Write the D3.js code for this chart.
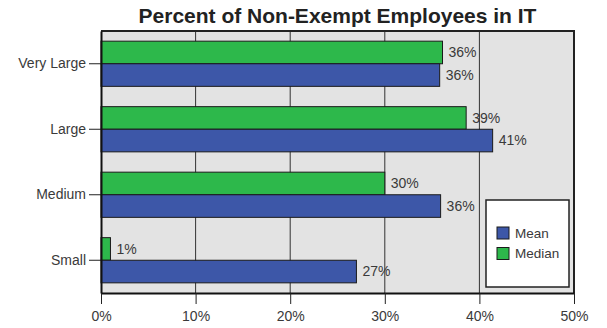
<!DOCTYPE html>
<html>
<head>
<meta charset="utf-8">
<script src="https://cdn.jsdelivr.net/npm/d3@7"></script>
<style>
  html, body { margin: 0; padding: 0; background: #fff; }
  svg { display: block; font-family: "Liberation Sans", Arial, sans-serif; }
</style>
</head>
<body>
<svg id="chart" width="607" height="328"></svg>
<script>
// Company-size categories, top to bottom
const categories = ["Very Large", "Large", "Medium", "Small"];
// Series names and values (percent)
const seriesNames = ["Median", "Mean"];
const medianValues = [36.1, 38.6, 30.0, 1.0];
const meanValues = [35.8, 41.4, 35.9, 27.0];
const xTicks = [0, 10, 20, 30, 40, 50];
const legendNames = ["Mean", "Median"];

const colors = { Mean: "#3d57a8", Median: "#2db84b" };

const svg = d3.select("#chart");
const margin = { left: 101, right: 33, top: 31, bottom: 35 };
const W = 607, H = 328;

const x = d3.scaleLinear().domain([0, 50]).range([margin.left, W - margin.right]);
const y = d3.scaleBand().domain(categories)
  .range([margin.top, H - margin.bottom])
  .paddingInner(0.31).paddingOuter(0.155);
const ySub = d3.scaleBand().domain(seriesNames).range([0, y.bandwidth()]);

const rows = categories.map((c, i) => ({
  cat: c,
  Median: medianValues[i],
  Mean: meanValues[i]
}));

// Title, centred over the plot area
svg.append("text")
  .attr("x", (x(0) + x(50)) / 2).attr("y", 23)
  .attr("text-anchor", "middle")
  .attr("font-size", 21).attr("font-weight", "bold")
  .attr("fill", "#222")
  .text("Percent of Non-Exempt Employees in IT");

// Plot background
svg.append("rect")
  .attr("x", x(0)).attr("y", margin.top)
  .attr("width", x(50) - x(0)).attr("height", H - margin.bottom - margin.top)
  .attr("fill", "#e3e3e3");

// Vertical gridlines
svg.append("g").selectAll("line")
  .data(xTicks.slice(1))
  .join("line")
  .attr("x1", d => x(d)).attr("x2", d => x(d))
  .attr("y1", margin.top).attr("y2", H - margin.bottom)
  .attr("stroke", "#333").attr("stroke-width", 1);

// Bars
const groups = svg.append("g").selectAll("g")
  .data(rows)
  .join("g")
  .attr("transform", d => `translate(0,${y(d.cat)})`);

groups.selectAll("rect")
  .data(d => seriesNames.map(s => ({ s, v: d[s] })))
  .join("rect")
  .attr("x", x(0))
  .attr("y", d => ySub(d.s))
  .attr("width", d => x(d.v) - x(0))
  .attr("height", ySub.bandwidth())
  .attr("fill", d => colors[d.s])
  .attr("stroke", "#1a1a1a").attr("stroke-width", 1);

groups.selectAll("text")
  .data(d => seriesNames.map(s => ({ s, v: d[s] })))
  .join("text")
  .attr("x", d => x(d.v) + 6)
  .attr("y", d => ySub(d.s) + ySub.bandwidth() / 2)
  .attr("dy", "0.35em")
  .attr("font-size", 14)
  .attr("fill", "#3a3a3a")
  .text(d => d3.format(".0f")(d.v) + "%");

// Plot frame (top and right)
svg.append("path")
  .attr("d", `M${x(0)},${margin.top}H${x(50)}V${H - margin.bottom}`)
  .attr("fill", "none").attr("stroke", "#222").attr("stroke-width", 2);

// Axes
const xAxis = d3.axisBottom(x).tickValues(xTicks)
  .tickFormat(d => d + "%").tickSize(11).tickSizeOuter(0).tickPadding(7);
const gx = svg.append("g")
  .attr("transform", `translate(0,${H - margin.bottom})`)
  .call(xAxis);
gx.select(".domain").attr("stroke", "#111").attr("stroke-width", 2);
gx.selectAll(".tick line").attr("stroke", "#222");
gx.selectAll(".tick text").attr("font-size", 14).attr("fill", "#3a3a3a")
  .attr("font-family", "Liberation Sans, Arial, sans-serif");

const yAxis = d3.axisLeft(y).tickSize(12).tickSizeOuter(0).tickPadding(3);
const gy = svg.append("g")
  .attr("transform", `translate(${x(0)},0)`)
  .call(yAxis);
gy.select(".domain").attr("stroke", "#111").attr("stroke-width", 2);
gy.selectAll(".tick line").attr("stroke", "#222");
gy.selectAll(".tick text").attr("font-size", 14).attr("fill", "#3a3a3a")
  .attr("font-family", "Liberation Sans, Arial, sans-serif");

// Legend
const lg = svg.append("g").attr("transform", "translate(486,200)");
lg.append("rect")
  .attr("width", 83).attr("height", 87)
  .attr("fill", "#fff").attr("stroke", "#222").attr("stroke-width", 1.5);
const items = lg.selectAll("g.item")
  .data(legendNames)
  .join("g")
  .attr("class", "item")
  .attr("transform", (d, i) => `translate(11,${27 + i * 20.5})`);
items.append("rect")
  .attr("width", 12).attr("height", 12)
  .attr("fill", d => colors[d])
  .attr("stroke", "#1a1a1a").attr("stroke-width", 1);
items.append("text")
  .attr("x", 18).attr("y", 6).attr("dy", "0.35em")
  .attr("font-size", 13.5).attr("fill", "#3a3a3a")
  .text(d => d);
</script>
</body>
</html>
